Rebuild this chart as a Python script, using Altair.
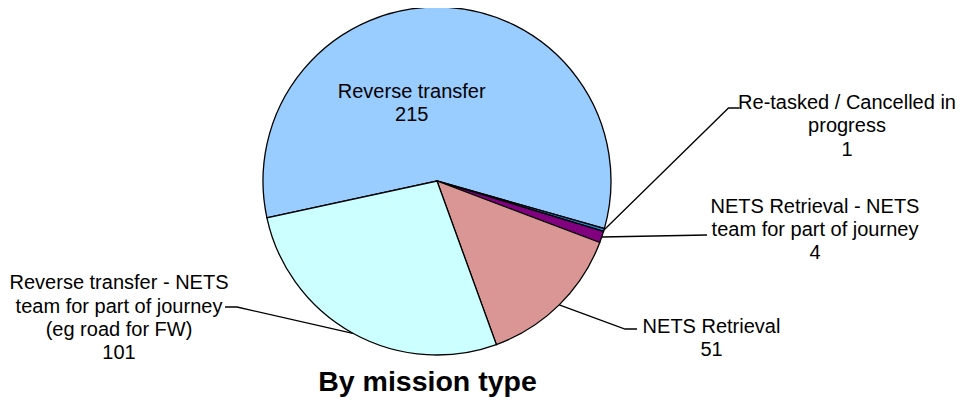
import math
import altair as alt
import pandas as pd

# ---------------- data ----------------
categories = [
    "Reverse transfer",
    "Re-tasked / Cancelled in progress",
    "NETS Retrieval - NETS team for part of journey",
    "NETS Retrieval",
    "Reverse transfer - NETS team for part of journey (eg road for FW)",
]
label_lines = [
    ["Reverse transfer"],
    ["Re-tasked / Cancelled in", "progress"],
    ["NETS Retrieval - NETS", "team for part of journey"],
    ["NETS Retrieval"],
    ["Reverse transfer - NETS", "team for part of journey", "(eg road for FW)"],
]
values = [215, 1, 4, 51, 101]
title_text = "By mission type"

# ---------------- styling / layout ----------------
colors = ["#99CCFF", "#1E88D0", "#800080", "#DA9694", "#CCFFFF"]
W, H = 949, 389              # view size (px)
CX, CY, R = 429, 173, 174    # pie centre and radius (px, view coords)
START_DEG = 257.8            # angle of first slice boundary (clockwise from 12 o'clock)
FONT = "Liberation Sans"

# first-line centres of label blocks (px, view coords)
label_pos = [(403.7, 84), (839, 95), (807, 198.7), (703.5, 319), (111, 275.3)]
# leader bend/end points (px, view coords); None = label inside slice
leader_pts = [
    None,
    [(720.5, 100), (731.5, 100)],
    [(699, 227)],
    [(617, 321), (629, 321)],
    [(229, 299), (217, 299)],
]
title_pos = (419.5, 383)


def to_u(px):
    return (px - CX) / R


def to_v(py):
    return (CY - py) / R


xs = alt.Scale(domain=[to_u(0), to_u(W)], nice=False, zero=False)
ys = alt.Scale(domain=[to_v(H), to_v(0)], nice=False, zero=False)

total = sum(values)
start_rad = math.radians(START_DEG)

pie_df = pd.DataFrame({"category": categories, "value": values, "idx": list(range(len(values)))})

# labels
lab_rows = []
for i, (lines, v) in enumerate(zip(label_lines, values)):
    lx, ly = label_pos[i]
    lab_rows.append({"label": "\n".join(lines + [str(v)]), "u": to_u(lx), "v": to_v(ly)})
lab_df = pd.DataFrame(lab_rows)

# leader lines: start at the slice's mid-angle on the rim
line_rows = []
cum = 0
for i, v in enumerate(values):
    mid = START_DEG + 360.0 * (cum + v / 2.0) / total
    cum += v
    if leader_pts[i] is None:
        continue
    th = math.radians(mid)
    pts = [(math.sin(th), math.cos(th))] + [(to_u(px), to_v(py)) for px, py in leader_pts[i]]
    for k, (u, vv) in enumerate(pts):
        line_rows.append({"key": categories[i], "ord": k, "u": u, "v": vv})
line_df = pd.DataFrame(line_rows)

title_df = pd.DataFrame({"t": [title_text], "u": [to_u(title_pos[0])], "v": [to_v(title_pos[1])]})

arcs = alt.Chart(pie_df).mark_arc(outerRadius=R, stroke="black", strokeWidth=1.3).encode(
    theta=alt.Theta("value:Q", stack=True,
                    scale=alt.Scale(range=[start_rad, start_rad + 2 * math.pi])),
    color=alt.Color("category:N", scale=alt.Scale(domain=categories, range=colors), legend=None),
    order=alt.Order("idx:Q"),
    x=alt.datum(0, scale=xs, axis=None),
    y=alt.datum(0, scale=ys, axis=None),
)

leaders = alt.Chart(line_df).mark_line(color="black", strokeWidth=1.3).encode(
    x=alt.X("u:Q", scale=xs, axis=None),
    y=alt.Y("v:Q", scale=ys, axis=None),
    detail="key:N",
    order=alt.Order("ord:Q"),
)

labels = alt.Chart(lab_df).mark_text(
    font=FONT, fontSize=20, lineHeight=23.3, lineBreak="\n",
    align="center", baseline="middle", color="black",
).encode(
    x=alt.X("u:Q", scale=xs, axis=None),
    y=alt.Y("v:Q", scale=ys, axis=None),
    text="label:N",
)

title = alt.Chart(title_df).mark_text(
    font=FONT, fontSize=28.5, fontWeight="bold", align="center",
    baseline="alphabetic", color="black",
).encode(
    x=alt.X("u:Q", scale=xs, axis=None),
    y=alt.Y("v:Q", scale=ys, axis=None),
    text="t:N",
)

chart = alt.layer(arcs, leaders, labels, title).properties(
    width=W, height=H, padding=0,
    autosize=alt.AutoSizeParams(type="none"),
).configure_view(stroke=None)

chart.save("out.html", embed_options={"renderer": "svg", "actions": False})
